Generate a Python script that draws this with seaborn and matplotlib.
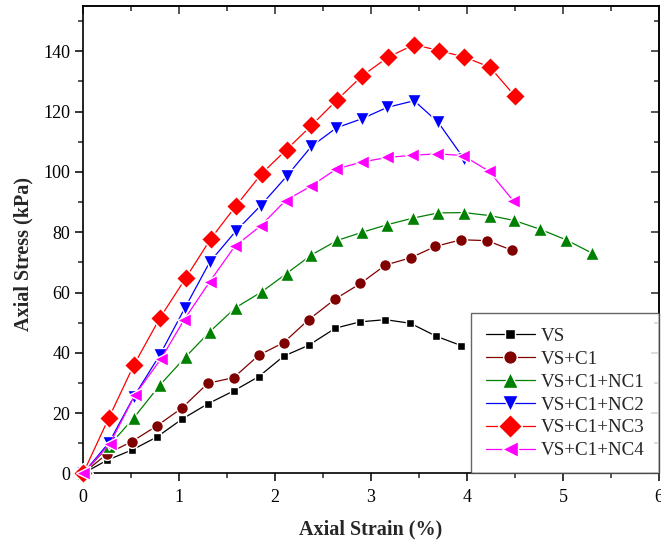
import numpy as np
import pandas as pd
import matplotlib
matplotlib.use('Agg')
import matplotlib.pyplot as plt
from matplotlib.ticker import MultipleLocator
import seaborn as sns

# Axial strain (%) / axial stress (kPa)
strain_vs = [0, 0.25, 0.51, 0.77, 1.03, 1.30, 1.57, 1.83, 2.09, 2.35, 2.63, 2.89, 3.15, 3.41, 3.68, 3.94]
stress_vs = [0, 4.4, 7.8, 12.1, 18.0, 23.1, 27.4, 32.1, 38.9, 42.5, 48.2, 50.3, 51.0, 49.8, 45.5, 42.4]

strain_c1 = [0, 0.25, 0.51, 0.77, 1.03, 1.30, 1.57, 1.83, 2.09, 2.35, 2.63, 2.89, 3.15, 3.42, 3.67, 3.94, 4.21, 4.47]
stress_c1 = [0, 6.5, 10.6, 15.8, 21.7, 29.9, 31.8, 39.2, 43.4, 51.0, 57.9, 63.0, 69.1, 71.6, 75.3, 77.5, 77.2, 74.0]

strain_nc1 = [0, 0.27, 0.53, 0.80, 1.07, 1.32, 1.59, 1.86, 2.12, 2.38, 2.65, 2.91, 3.17, 3.44, 3.70, 3.97, 4.24, 4.49, 4.76, 5.03, 5.30]
stress_nc1 = [0, 9.1, 18.5, 29.3, 38.7, 47.0, 55.0, 60.2, 66.3, 72.5, 77.3, 80.0, 82.5, 84.7, 86.4, 86.5, 85.5, 83.9, 81.0, 77.5, 73.1]

strain_nc2 = [0, 0.27, 0.53, 0.80, 1.06, 1.32, 1.59, 1.85, 2.12, 2.38, 2.64, 2.91, 3.17, 3.45, 3.70, 3.97]
stress_nc2 = [0, 10.2, 25.5, 39.3, 54.8, 70.1, 80.3, 88.8, 98.5, 108.5, 114.6, 117.7, 121.4, 123.6, 116.4, 104.3]

strain_nc3 = [0, 0.27, 0.53, 0.80, 1.07, 1.33, 1.59, 1.86, 2.12, 2.38, 2.65, 2.91, 3.18, 3.45, 3.71, 3.97, 4.24, 4.50]
stress_nc3 = [0, 18.5, 36.0, 51.5, 64.8, 77.8, 88.6, 99.4, 107.4, 115.4, 124.0, 131.9, 138.1, 142.2, 140.2, 138.1, 134.7, 125.1]

strain_nc4 = [0, 0.28, 0.54, 0.81, 1.05, 1.32, 1.58, 1.85, 2.11, 2.38, 2.64, 2.91, 3.17, 3.43, 3.69, 3.96, 4.23, 4.48]
stress_nc4 = [0, 9.9, 26.0, 37.9, 50.8, 63.6, 75.3, 82.1, 90.5, 95.4, 101.0, 103.3, 104.8, 105.5, 106.0, 105.4, 100.2, 90.5]

labels = ['VS', 'VS+C1', 'VS+C1+NC1', 'VS+C1+NC2', 'VS+C1+NC3', 'VS+C1+NC4']
strains = [strain_vs, strain_c1, strain_nc1, strain_nc2, strain_nc3, strain_nc4]
stresses = [stress_vs, stress_c1, stress_nc1, stress_nc2, stress_nc3, stress_nc4]
colors = ['black', '#800000', '#008000', '#0000ff', '#ff0000', '#ff00ff']
markers = ['s', 'o', '^', 'v', 'D', '<']
msizes = [6, 8.5, 10.5, 10.5, 10.5, 10.5]

sns.set_style('ticks')
plt.rcParams['font.family'] = ['Liberation Serif', 'DejaVu Serif']

fig = plt.figure(figsize=(6.61, 5.42), dpi=100)
ax = fig.add_axes([0.1256, 0.1264, 0.8714, 0.8625])

for lab, xs, ys, c, m, ms in zip(labels, strains, stresses, colors, markers, msizes):
    df = pd.DataFrame({'strain': xs, 'stress': ys})
    sns.lineplot(data=df, x='strain', y='stress', ax=ax, sort=False, color=c,
                 marker=m, markersize=ms, markeredgecolor='white', markeredgewidth=1.0,
                 linewidth=0.9, label=lab, clip_on=False, zorder=3)

ax.set_xlim(0, 6)
ax.set_ylim(0, 155)
ax.xaxis.set_major_locator(MultipleLocator(1))
ax.xaxis.set_minor_locator(MultipleLocator(0.5))
ax.yaxis.set_major_locator(MultipleLocator(20))
ax.yaxis.set_minor_locator(MultipleLocator(10))
ax.tick_params(which='major', direction='out', length=6, width=1.1, labelsize=13, colors='black')
ax.tick_params(axis='x', which='major', pad=5)
ax.tick_params(axis='y', which='major', pad=3)
ax.tick_params(which='minor', direction='out', length=3.5, width=1.1)

for s in ax.spines.values():
    s.set_visible(True)
    s.set_linewidth(1.2)
    s.set_color('black')

# mirrored ticks on top and right, pointing inward
top = ax.secondary_xaxis('top')
top.xaxis.set_major_locator(MultipleLocator(1))
top.xaxis.set_minor_locator(MultipleLocator(0.5))
top.tick_params(which='major', direction='in', length=6, width=1.1, labeltop=False)
top.tick_params(which='minor', direction='in', length=3.5, width=1.1)
right = ax.secondary_yaxis('right')
right.yaxis.set_major_locator(MultipleLocator(20))
right.yaxis.set_minor_locator(MultipleLocator(10))
right.tick_params(which='major', direction='in', length=6, width=1.1, labelright=False)
right.tick_params(which='minor', direction='in', length=3.5, width=1.1)
for sec in (top, right):
    for s in sec.spines.values():
        s.set_linewidth(1.2)

ax.set_xlabel('Axial Strain (%)', fontsize=14.5, fontweight='bold', labelpad=10)
ax.set_ylabel('Axial Stress (kPa)', fontsize=14.5, fontweight='bold')
ax.yaxis.set_label_coords(-0.086, 0.47)

leg = ax.legend(loc='lower right', borderaxespad=0, fontsize=13.7, frameon=True,
                fancybox=False, edgecolor='#404040', handlelength=2.6,
                labelspacing=0.29, markerscale=1.15, borderpad=0.75, handletextpad=0.3)
leg.get_frame().set_linewidth(1.0)
leg.set_zorder(5)

fig.savefig('out.png', dpi=100)
